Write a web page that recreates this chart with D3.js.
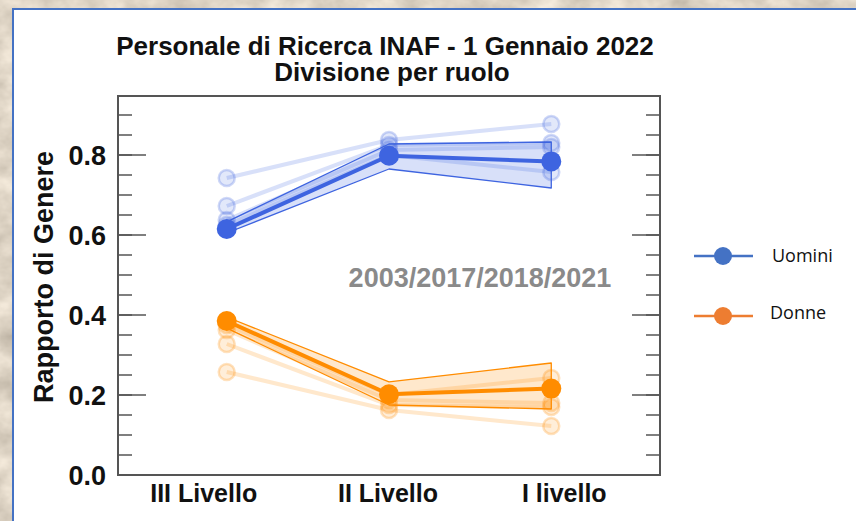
<!DOCTYPE html>
<html>
<head>
<meta charset="utf-8">
<script src="https://cdn.jsdelivr.net/npm/d3@7"></script>
<style>
  body { margin: 0; }
  svg { display: block; }
</style>
</head>
<body>
<div id="chart"></div>
<script>
// === DATA ===
const categories = ["III Livello", "II Livello", "I livello"];

// 2022 (bold line)
const uomini = [0.615, 0.798, 0.784];
const donne = [0.385, 0.202, 0.216];

// earlier years (faded lines)
const years = ["2003", "2017", "2018", "2021"];
const uominiPast = [
    [0.7425, 0.8375, 0.8775],
    [0.6725, 0.825, 0.830],
    [0.6375, 0.8125, 0.820],
    [0.625, 0.800, 0.7575]
];
const donnePast = [
    [0.2575, 0.1625, 0.1225],
    [0.3275, 0.175, 0.170],
    [0.3625, 0.1875, 0.180],
    [0.375, 0.200, 0.2425]
];

// shaded band (lower, upper)
const uominiLow = [0.605, 0.765, 0.7175];
const uominiHigh = [0.633, 0.8275, 0.8325];
const donneLow = [0.367, 0.175, 0.165];
const donneHigh = [0.395, 0.233, 0.280];

const yTicks = [0.0, 0.2, 0.4, 0.6, 0.8];
const legendLabels = ["Uomini", "Donne"];

// === SETUP ===
const W = 856, H = 521;
const frame = { left: 118, right: 660, top: 96, bottom: 475 };
const fontBold = "'Liberation Sans', Arial, sans-serif";

const svg = d3.select("#chart").append("svg")
    .attr("width", W)
    .attr("height", H);

// parchment background
const defs = svg.append("defs");
const filt = defs.append("filter")
    .attr("id", "paper")
    .attr("x", 0).attr("y", 0).attr("width", "100%").attr("height", "100%")
    .attr("color-interpolation-filters", "sRGB");
filt.append("feTurbulence")
    .attr("type", "fractalNoise")
    .attr("baseFrequency", "0.03 0.04")
    .attr("numOctaves", 4)
    .attr("seed", 7);
filt.append("feColorMatrix")
    .attr("type", "matrix")
    .attr("values", "0.3 0 0 0 0.72  0.3 0 0 0 0.68  0.3 0 0 0 0.62  0 0 0 0 1");

svg.append("rect")
    .attr("width", W).attr("height", H)
    .attr("filter", "url(#paper)");

// white panel with blue border
svg.append("rect")
    .attr("x", 13).attr("y", 9)
    .attr("width", W).attr("height", H)
    .attr("fill", "#fff")
    .attr("stroke", "#4472c4")
    .attr("stroke-width", 2);

// === SCALES ===
const x = d3.scalePoint()
    .domain(categories)
    .range([frame.left, frame.right])
    .padding(0.67);

const y = d3.scaleLinear()
    .domain([0, 0.9475])
    .range([frame.bottom, frame.top]);

// === TITLE ===
svg.append("text")
    .attr("x", 385).attr("y", 55)
    .attr("text-anchor", "middle")
    .attr("font-family", fontBold)
    .attr("font-weight", "bold")
    .attr("font-size", "26px")
    .attr("fill", "#111")
    .text("Personale di Ricerca INAF - 1 Gennaio 2022");

svg.append("text")
    .attr("x", 392).attr("y", 81)
    .attr("text-anchor", "middle")
    .attr("font-family", fontBold)
    .attr("font-weight", "bold")
    .attr("font-size", "26px")
    .attr("fill", "#111")
    .text("Divisione per ruolo");

// === AXES ===
const minorTicks = d3.range(0.05, 0.95, 0.05);

const leftAxis = svg.append("g").attr("transform", `translate(${frame.left},0)`);
leftAxis.selectAll("line.minor")
    .data(minorTicks)
    .join("line")
    .attr("x1", 0).attr("x2", 14)
    .attr("y1", d => y(d)).attr("y2", d => y(d))
    .attr("stroke", "#555").attr("stroke-width", 1.5);
leftAxis.selectAll("line.major")
    .data(yTicks)
    .join("line")
    .attr("x1", 0).attr("x2", 28)
    .attr("y1", d => y(d)).attr("y2", d => y(d))
    .attr("stroke", "#555").attr("stroke-width", 1.5);

const rightAxis = svg.append("g").attr("transform", `translate(${frame.right},0)`);
rightAxis.selectAll("line.minor")
    .data(minorTicks)
    .join("line")
    .attr("x1", 0).attr("x2", -14)
    .attr("y1", d => y(d)).attr("y2", d => y(d))
    .attr("stroke", "#555").attr("stroke-width", 1.5);
rightAxis.selectAll("line.major")
    .data(yTicks)
    .join("line")
    .attr("x1", 0).attr("x2", -28)
    .attr("y1", d => y(d)).attr("y2", d => y(d))
    .attr("stroke", "#555").attr("stroke-width", 1.5);

svg.selectAll("text.ytick")
    .data(yTicks)
    .join("text")
    .attr("class", "ytick")
    .attr("x", frame.left - 12)
    .attr("y", d => y(d))
    .attr("dy", "0.36em")
    .attr("text-anchor", "end")
    .attr("font-family", fontBold)
    .attr("font-weight", "bold")
    .attr("font-size", "27px")
    .attr("fill", "#111")
    .text(d => d.toFixed(1));

// category labels sit a bit off the points in the original
const labelShift = [-23, -1, 13];
svg.selectAll("text.xtick")
    .data(categories)
    .join("text")
    .attr("class", "xtick")
    .attr("x", (d, i) => x(d) + labelShift[i])
    .attr("y", 502)
    .attr("text-anchor", "middle")
    .attr("font-family", fontBold)
    .attr("font-weight", "bold")
    .attr("font-size", "25px")
    .attr("fill", "#111")
    .text(d => d);

svg.append("text")
    .attr("transform", `translate(53,277) rotate(-90)`)
    .attr("text-anchor", "middle")
    .attr("font-family", fontBold)
    .attr("font-weight", "bold")
    .attr("font-size", "27px")
    .attr("fill", "#111")
    .text("Rapporto di Genere");

// annotation
svg.append("text")
    .attr("x", 480).attr("y", 287)
    .attr("text-anchor", "middle")
    .attr("font-family", fontBold)
    .attr("font-weight", "bold")
    .attr("font-size", "27px")
    .attr("fill", "#8a8a8a")
    .text(years.join("/"));

// === SERIES ===
const line = d3.line()
    .x((d, i) => x(categories[i]))
    .y(d => y(d));

const area = d3.area()
    .x(d => x(d.c))
    .y0(d => y(d.lo))
    .y1(d => y(d.hi));

function drawGroup(color, main, past, lo, hi) {
    const g = svg.append("g");
    const bandData = categories.map((c, i) => ({ c, lo: lo[i], hi: hi[i] }));

    g.append("path")
        .datum(bandData)
        .attr("d", area)
        .attr("fill", color)
        .attr("fill-opacity", 0.2)
        .attr("stroke", color)
        .attr("stroke-width", 1.3)
        .attr("stroke-linejoin", "round");

    // faded past years
    past.forEach(vals => {
        g.append("path")
            .attr("d", line(vals))
            .attr("fill", "none")
            .attr("stroke", color)
            .attr("stroke-opacity", 0.2)
            .attr("stroke-width", 4);
        g.selectAll(null)
            .data(vals)
            .join("circle")
            .attr("cx", (d, i) => x(categories[i]))
            .attr("cy", d => y(d))
            .attr("r", 8)
            .attr("fill", color)
            .attr("fill-opacity", 0.15)
            .attr("stroke", color)
            .attr("stroke-opacity", 0.25)
            .attr("stroke-width", 2.5);
    });

    g.append("path")
        .attr("d", line(main))
        .attr("fill", "none")
        .attr("stroke", color)
        .attr("stroke-width", 4);

    g.selectAll("circle.main")
        .data(main)
        .join("circle")
        .attr("class", "main")
        .attr("cx", (d, i) => x(categories[i]))
        .attr("cy", d => y(d))
        .attr("r", 10)
        .attr("fill", color);
}

drawGroup("#3e64e0", uomini, uominiPast, uominiLow, uominiHigh);
drawGroup("#ff8c00", donne, donnePast, donneLow, donneHigh);

// frame
svg.append("rect")
    .attr("x", frame.left).attr("y", frame.top)
    .attr("width", frame.right - frame.left)
    .attr("height", frame.bottom - frame.top)
    .attr("fill", "none")
    .attr("stroke", "#555")
    .attr("stroke-width", 2);

// === LEGEND ===
const legendColors = ["#4472c4", "#ed7d31"];
const legendY = [256, 316];
const legend = svg.selectAll("g.legend")
    .data(legendLabels)
    .join("g")
    .attr("class", "legend")
    .attr("transform", (d, i) => `translate(0,${legendY[i]})`);

legend.append("line")
    .attr("x1", 694).attr("x2", 753)
    .attr("stroke", (d, i) => legendColors[i])
    .attr("stroke-width", 2.5);
legend.append("circle")
    .attr("cx", 723)
    .attr("r", 9)
    .attr("fill", (d, i) => legendColors[i]);
legend.append("text")
    .attr("x", (d, i) => i === 0 ? 772 : 770)
    .attr("y", (d, i) => i === 0 ? 0 : -3)
    .attr("dy", "0.35em")
    .attr("font-family", "'Open Sans', 'Noto Sans', sans-serif")
    .attr("font-size", "18px")
    .attr("fill", "#111")
    .text(d => d);
</script>
</body>
</html>
